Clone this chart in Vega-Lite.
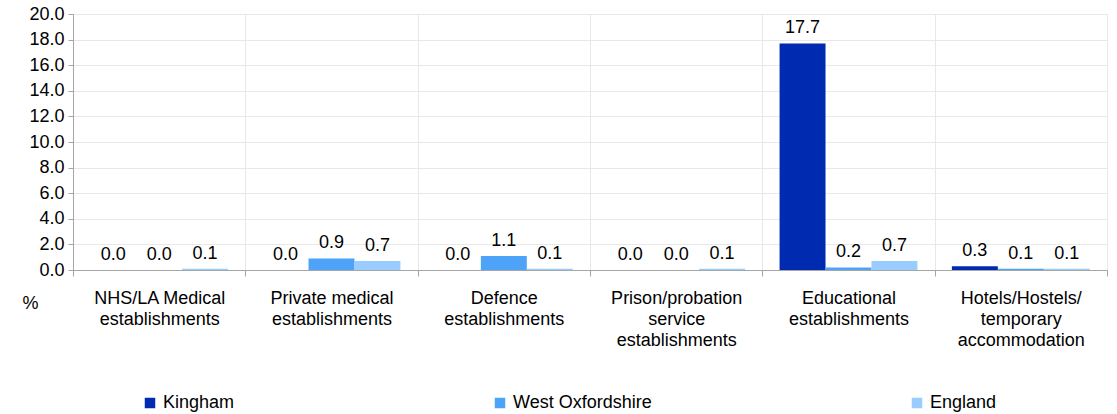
{
  "$schema": "https://vega.github.io/schema/vega-lite/v6.json",
  "width": 1034,
  "height": 256,
  "autosize": {"type": "none"},
  "padding": {"left": 73, "top": 14, "right": 10, "bottom": 144},
  "background": "white",
  "config": {
    "font": "Liberation Sans",
    "view": {"stroke": "#e6e6e6"},
    "axis": {"labelColor": "#000", "titleColor": "#000", "gridColor": "#e8e8e8", "domainColor": "#a6a6a6", "tickColor": "#a6a6a6"}
  },
  "data": {
    "values": [
      {"category": "NHS/LA Medical|establishments", "area": "Kingham", "value": 0.0},
      {"category": "NHS/LA Medical|establishments", "area": "West Oxfordshire", "value": 0.0},
      {"category": "NHS/LA Medical|establishments", "area": "England", "value": 0.1},
      {"category": "Private medical|establishments", "area": "Kingham", "value": 0.0},
      {"category": "Private medical|establishments", "area": "West Oxfordshire", "value": 0.9},
      {"category": "Private medical|establishments", "area": "England", "value": 0.7},
      {"category": "Defence|establishments", "area": "Kingham", "value": 0.0},
      {"category": "Defence|establishments", "area": "West Oxfordshire", "value": 1.1},
      {"category": "Defence|establishments", "area": "England", "value": 0.1},
      {"category": "Prison/probation|service|establishments", "area": "Kingham", "value": 0.0},
      {"category": "Prison/probation|service|establishments", "area": "West Oxfordshire", "value": 0.0},
      {"category": "Prison/probation|service|establishments", "area": "England", "value": 0.1},
      {"category": "Educational|establishments", "area": "Kingham", "value": 17.7},
      {"category": "Educational|establishments", "area": "West Oxfordshire", "value": 0.2},
      {"category": "Educational|establishments", "area": "England", "value": 0.7},
      {"category": "Hotels/Hostels/|temporary|accommodation", "area": "Kingham", "value": 0.3},
      {"category": "Hotels/Hostels/|temporary|accommodation", "area": "West Oxfordshire", "value": 0.1},
      {"category": "Hotels/Hostels/|temporary|accommodation", "area": "England", "value": 0.1}
    ]
  },
  "encoding": {
    "x": {
      "field": "category",
      "type": "nominal",
      "sort": null,
      "scale": {"paddingInner": 0, "paddingOuter": 0},
      "axis": {
        "title": null,
        "labelAngle": 0,
        "tickBand": "extent",
        "grid": true,
        "tickSize": 6,
        "labelExpr": "split(datum.label, '|')",
        "labelFontSize": 18,
        "labelPadding": 13,
        "labelLineHeight": 21,
        "labelBaseline": "top"
      }
    },
    "xOffset": {
      "field": "area",
      "type": "nominal",
      "sort": ["Kingham", "West Oxfordshire", "England"],
      "scale": {"paddingInner": 0, "paddingOuter": 0.375}
    },
    "y": {
      "field": "value",
      "type": "quantitative",
      "scale": {"domain": [0, 20]},
      "axis": {
        "title": "%",
        "titleAngle": 0,
        "titleX": -43,
        "titleY": 289,
        "titleAlign": "center",
        "titleBaseline": "middle",
        "titleFontSize": 18,
        "titleFontWeight": "normal",
        "values": [0, 2, 4, 6, 8, 10, 12, 14, 16, 18, 20],
        "format": ".1f",
        "labelFontSize": 18,
        "tickSize": 5,
        "labelPadding": 4
      }
    }
  },
  "layer": [
    {
      "mark": {"type": "bar"},
      "encoding": {
        "color": {
          "field": "area",
          "type": "nominal",
          "sort": ["Kingham", "West Oxfordshire", "England"],
          "scale": {"domain": ["Kingham", "West Oxfordshire", "England"], "range": ["#002BB0", "#4DA3F7", "#99CCFF"]},
          "legend": {
            "title": null,
            "orient": "none",
            "legendX": 68,
            "legendY": 380,
            "direction": "horizontal",
            "symbolType": "square",
            "symbolSize": 110,
            "symbolStrokeWidth": 0,
            "labelFontSize": 18,
            "columnPadding": 256
          }
        }
      }
    },
    {
      "mark": {"type": "text", "baseline": "bottom", "dy": -6, "fontSize": 18, "color": "#000"},
      "encoding": {"text": {"field": "value", "type": "quantitative", "format": ".1f"}}
    }
  ]
}
